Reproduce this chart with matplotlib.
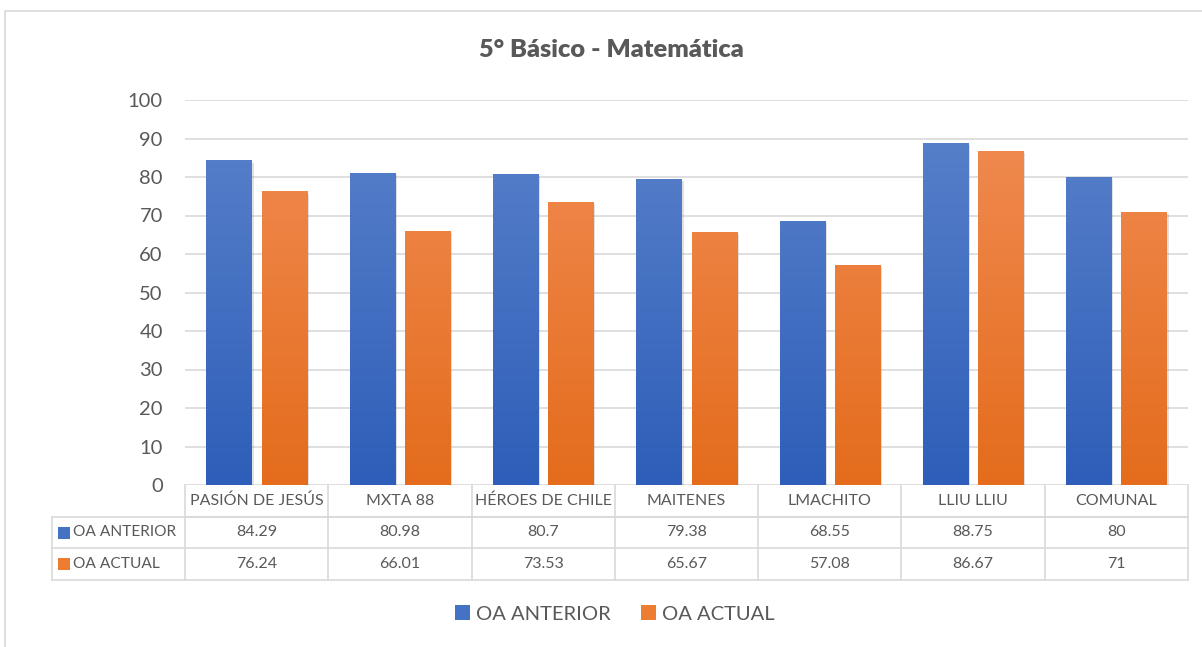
import matplotlib
matplotlib.use("Agg")
import matplotlib.pyplot as plt
import numpy as np
from matplotlib.patches import Rectangle, Patch
from matplotlib.transforms import blended_transform_factory
from matplotlib.colors import LinearSegmentedColormap
import matplotlib.patheffects as pe

plt.rcParams['font.family'] = ['Lato', 'DejaVu Sans']

title = "5° Básico - Matemática"
categories = ["PASIÓN DE JESÚS", "MXTA 88", "HÉROES DE CHILE", "MAITENES",
              "LMACHITO", "LLIU LLIU", "COMUNAL"]
series_names = ["OA ANTERIOR", "OA ACTUAL"]
oa_anterior = [84.29, 80.98, 80.7, 79.38, 68.55, 88.75, 80]
oa_actual = [76.24, 66.01, 73.53, 65.67, 57.08, 86.67, 71]
yticks = list(range(0, 101, 10))

W, H = 1202, 647
fig = plt.figure(figsize=(W / 100, H / 100), dpi=100)
fig.patch.set_facecolor("white")

# outer chart border
fig.add_artist(Rectangle((5 / W, -0.01), 1.02, 1 - 11 / H + 0.01, transform=fig.transFigure,
                         fill=False, edgecolor="#D9D9D9", linewidth=1.2))

ax = fig.add_axes([185 / W, 1 - 485 / H, 1003 / W, 385 / H])
n = len(categories)
x = np.arange(n)
bw = 0.315
gap = 0.07
off = (bw + gap) / 2

grey = "#595959"
line_c = "#D9D9D9"

ax.set_xlim(-0.5, n - 0.5)
ax.set_ylim(0, 100)
ax.set_yticks(yticks)
ax.set_yticklabels([str(t) for t in yticks], fontsize=14.5, color=grey)
ax.tick_params(axis='y', length=0, pad=16)
ax.set_xticks([])
for s in ax.spines.values():
    s.set_visible(False)
ax.grid(axis='y', color=line_c, linewidth=1.2)
ax.set_axisbelow(True)

cm_blue = LinearSegmentedColormap.from_list("b", ["#2E5EB9", "#5B83CB"])
cm_orange = LinearSegmentedColormap.from_list("o", ["#E46C1C", "#F18D55"])
grad = np.linspace(0, 1, 256).reshape(-1, 1)

shadow = [pe.SimplePatchShadow(offset=(1.5, -1.5), alpha=0.25, shadow_rgbFace="#888888"), pe.Normal()]
for vals, dx, cmap, col in [(oa_anterior, -off, cm_blue, "#4472C4"),
                            (oa_actual, off, cm_orange, "#ED7D31")]:
    bars = ax.bar(x + dx, vals, width=bw, color=col, zorder=2, path_effects=shadow)
    for b in bars:
        x0, y0 = b.get_x(), b.get_y()
        w, h = b.get_width(), b.get_height()
        im = ax.imshow(grad, cmap=cmap, origin='lower', aspect='auto',
                       extent=(x0, x0 + w, 0, 100), zorder=3)
        im.set_clip_path(b)

ax.set_xlim(-0.5, n - 0.5)
ax.set_ylim(0, 100)

# data table
tr = blended_transform_factory(ax.transData, ax.transAxes)
px = 1 / 385
r0, r1, r2, r3 = 0, -32 * px, -63 * px, -95 * px
xl = -0.5 - 133 / 143.3
xr = n - 0.5
kw = dict(transform=tr, color=line_c, linewidth=1.2, clip_on=False)
ax.plot([-0.5, xr], [r1, r1], **kw)
ax.plot([xl, xr], [r1, r1], **kw)
ax.plot([xl, xr], [r2, r2], **kw)
ax.plot([xl, xr], [r3, r3], **kw)
ax.plot([xl, xl], [r1, r3], **kw)
for b in np.arange(-0.5, n, 1.0):
    ax.plot([b, b], [r0, r3], **kw)

tfs = 11.5
for i, c in enumerate(categories):
    ax.text(i, (r0 + r1) / 2, c, transform=tr, ha='center', va='center',
            fontsize=tfs, color=grey, clip_on=False)
    ax.text(i, (r1 + r2) / 2, f"{oa_anterior[i]:g}", transform=tr, ha='center', va='center',
            fontsize=tfs, color=grey, clip_on=False)
    ax.text(i, (r2 + r3) / 2, f"{oa_actual[i]:g}", transform=tr, ha='center', va='center',
            fontsize=tfs, color=grey, clip_on=False)

sq = 12 / 143.3
for (ra, rb), name, col in [((r1, r2), series_names[0], "#4472C4"),
                            ((r2, r3), series_names[1], "#ED7D31")]:
    yc = (ra + rb) / 2
    ax.add_patch(Rectangle((xl + 6 / 143.3, yc - 6 * px), sq, 12 * px, transform=tr,
                           facecolor=col, edgecolor='none', clip_on=False))
    ax.text(xl + 21 / 143.3, yc, name, transform=tr, ha='left', va='center',
            fontsize=tfs - 0.3, color=grey, clip_on=False)

fig.text(611 / W, 1 - 50 / H, title, ha='center', va='center', fontsize=18.3,
         fontweight='heavy', color=grey)

handles = [Patch(facecolor="#4472C4", label=series_names[0]),
           Patch(facecolor="#ED7D31", label=series_names[1])]
leg = fig.legend(handles=handles, loc='center', bbox_to_anchor=(615 / W, 1 - 614 / H),
                 ncol=2, frameon=False, fontsize=14.5, handlelength=0.75, handleheight=0.75,
                 handletextpad=0.3, columnspacing=1.5)
for t in leg.get_texts():
    t.set_color(grey)

fig.savefig("out.png", dpi=100)
